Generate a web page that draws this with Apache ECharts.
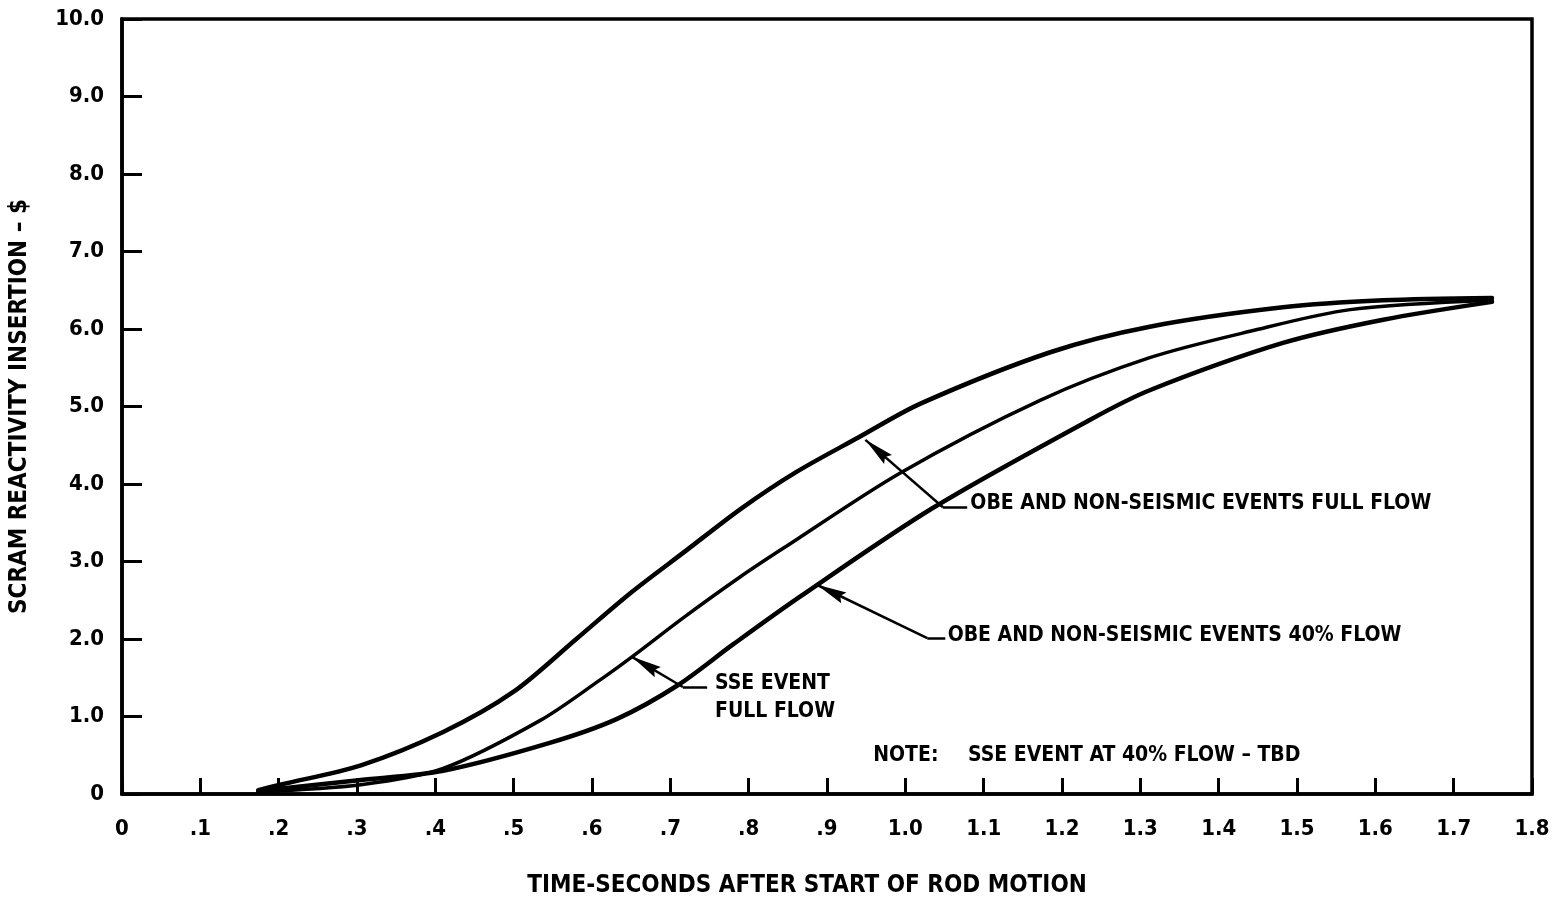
<!DOCTYPE html>
<html>
<head>
<meta charset="utf-8">
<script src="https://cdn.jsdelivr.net/npm/echarts@6/dist/echarts.min.js"></script>
<style>
  html, body { margin: 0; padding: 0; background: #fff; }
  #chart { width: 1564px; height: 897px; }
</style>
</head>
<body>
<div id="chart"></div>
<script>
// Scram reactivity insertion ($) versus time after start of rod motion (s)
const obeFullFlow = [
  [0.174, 0.05], [0.202, 0.12], [0.305, 0.37], [0.41, 0.80], [0.50, 1.32],
  [0.58, 2.00], [0.65, 2.60], [0.72, 3.14], [0.79, 3.68], [0.86, 4.15],
  [0.94, 4.60], [1.02, 5.04], [1.185, 5.70], [1.312, 6.03], [1.482, 6.28],
  [1.610, 6.37], [1.749, 6.40]
];
const sseFullFlow = [
  [0.174, 0.03], [0.305, 0.12], [0.41, 0.33], [0.534, 0.95],
  [0.610, 1.47], [0.651, 1.77], [0.716, 2.27], [0.789, 2.80], [0.844, 3.17],
  [0.993, 4.14], [1.172, 5.08], [1.312, 5.63], [1.440, 5.97], [1.568, 6.25],
  [1.749, 6.37]
];
const obe40Flow = [
  [0.174, 0.04], [0.305, 0.18], [0.41, 0.30], [0.546, 0.66],
  [0.632, 0.97], [0.709, 1.40], [0.780, 1.93], [0.866, 2.55], [1.035, 3.69],
  [1.236, 4.83], [1.312, 5.21], [1.482, 5.82], [1.610, 6.12], [1.749, 6.35]
];

const xTickLabels = ['0', '.1', '.2', '.3', '.4', '.5', '.6', '.7', '.8', '.9',
                     '1.0', '1.1', '1.2', '1.3', '1.4', '1.5', '1.6', '1.7', '1.8'];
const yTickLabels = ['0', '1.0', '2.0', '3.0', '4.0', '5.0', '6.0', '7.0', '8.0', '9.0', '10.0'];

const xTitle = 'TIME-SECONDS AFTER START OF ROD MOTION';
const yTitle = 'SCRAM REACTIVITY INSERTION \u2013 $';

// Leader lines: [horizontal end, elbow, arrow tip] in data units
const leaders = [
  [[1.079, 3.70], [1.048, 3.70], [0.949, 4.57]],
  [[1.051, 2.01], [1.028, 2.01], [0.887, 2.70]],
  [[0.747, 1.38], [0.716, 1.38], [0.651, 1.77]]
];
// Callout texts with their anchor (left edge, vertical middle) in data units
const callouts = [
  { text: 'OBE AND NON-SEISMIC EVENTS FULL FLOW', at: [1.083, 3.75] },
  { text: 'OBE AND NON-SEISMIC EVENTS 40% FLOW', at: [1.054, 2.04] },
  { text: 'SSE EVENT\nFULL FLOW', at: [0.757, 1.24] },
  { text: 'NOTE:', at: [0.959, 0.49] },
  { text: 'SSE EVENT AT 40% FLOW \u2013 TBD', at: [1.080, 0.49] }
];

const FONT = "'Liberation Sans Narrow', 'DejaVu Sans Condensed', 'DejaVu Sans', sans-serif";
// Slim arrowhead pointing up with its tip at the symbol centre; the two empty
// sub-paths square off the bounding box so the head keeps its proportions.
const ARROW = 'path://M-30,-30 L-30,-30 M30,30 L30,30 M0,0 L6,30 L0,26 L-6,30 Z';

const curveStyle = (w) => ({
  type: 'line', smooth: 0.3, showSymbol: false, silent: true,
  lineStyle: { color: '#000', width: w, cap: 'round', join: 'round' }
});

// Each leader: a plain horizontal stub plus an arrowed diagonal
const leaderSegments = [];
leaders.forEach((c) => {
  leaderSegments.push({ coords: [c[0], c[1]], symbol: ['none', 'none'] });
  leaderSegments.push({ coords: [c[1], c[2]], symbol: ['none', ARROW] });
});

const chart = echarts.init(document.getElementById('chart'), null, { renderer: 'canvas' });
chart.setOption({
  backgroundColor: '#fff',
  animation: false,
  grid: { left: 122, right: 32, top: 19, bottom: 103, show: true, outerBoundsMode: 'none',
          borderColor: '#000', borderWidth: 3.5, backgroundColor: 'transparent' },
  xAxis: {
    type: 'value', min: 0, max: 1.8, interval: 0.1,
    name: xTitle, nameLocation: 'middle', nameGap: 80,
    nameTextStyle: { color: '#000', fontFamily: FONT, fontWeight: 'bold', fontSize: 24,
                     padding: [0, 40, 0, 0] },
    axisLine: { show: true, lineStyle: { color: '#000', width: 3.5 } },
    axisTick: { show: true, inside: true, length: 16, lineStyle: { color: '#000', width: 3 } },
    axisLabel: { color: '#000', fontFamily: FONT, fontWeight: 'bold', fontSize: 22, margin: 24,
                 formatter: (v) => xTickLabels[Math.round(v * 10)] },
    splitLine: { show: false }
  },
  yAxis: {
    type: 'value', min: 0, max: 10, interval: 1,
    name: yTitle, nameLocation: 'middle', nameGap: 90, nameRotate: 90,
    nameTextStyle: { color: '#000', fontFamily: FONT, fontWeight: 'bold', fontSize: 24 },
    axisLine: { show: true, lineStyle: { color: '#000', width: 3.5 } },
    axisTick: { show: true, inside: true, length: 20, lineStyle: { color: '#000', width: 3 } },
    axisLabel: { color: '#000', fontFamily: FONT, fontWeight: 'bold', fontSize: 22, margin: 18,
                 formatter: (v) => yTickLabels[Math.round(v)] },
    splitLine: { show: false }
  },
  series: [
    Object.assign({ name: 'OBE and non-seismic events full flow', data: obeFullFlow }, curveStyle(4.5)),
    Object.assign({ name: 'SSE event full flow', data: sseFullFlow }, curveStyle(3.5)),
    Object.assign({ name: 'OBE and non-seismic events 40% flow', data: obe40Flow }, curveStyle(4.5)),
    {
      type: 'lines', coordinateSystem: 'cartesian2d', silent: true,
      symbolSize: 60,
      lineStyle: { color: '#000', width: 2.5, opacity: 1 },
      itemStyle: { color: '#000' },
      data: leaderSegments
    },
    {
      type: 'scatter', symbolSize: 0, silent: true,
      itemStyle: { opacity: 1 },
      data: callouts.map((c) => ({
        value: c.at,
        label: {
          show: true, position: 'right', distance: 0, formatter: c.text,
          color: '#000', opacity: 1, fontFamily: FONT, fontWeight: 'bold', fontSize: 21,
          lineHeight: 28, align: 'left', verticalAlign: 'middle'
        }
      }))
    }
  ]
});
</script>
</body>
</html>
